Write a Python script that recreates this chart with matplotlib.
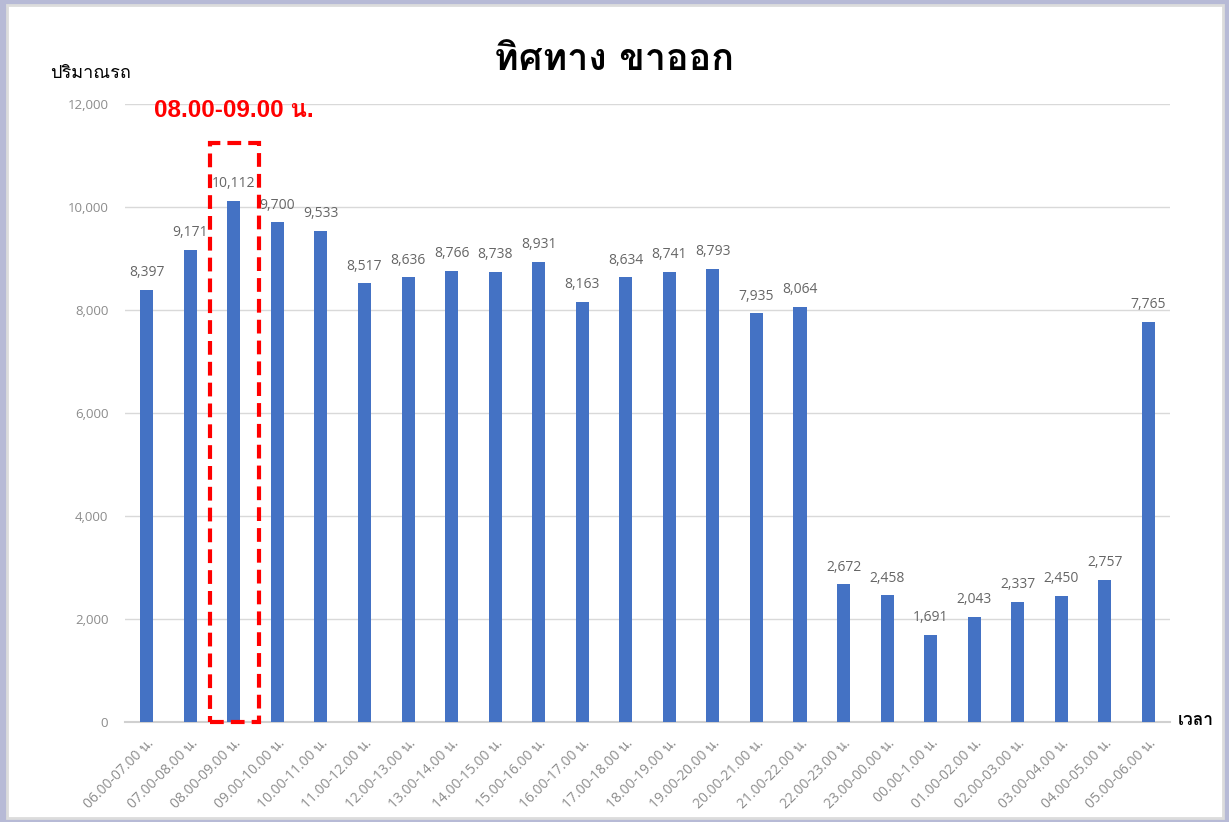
import matplotlib
matplotlib.use("Agg")
import matplotlib.pyplot as plt
from matplotlib import font_manager
from matplotlib.ft2font import FT2Font
from matplotlib.patches import Rectangle
import numpy as np


periods = ["06.00-07.00 น.", "07.00-08.00 น.", "08.00-09.00 น.", "09.00-10.00 น.",
           "10.00-11.00 น.", "11.00-12.00 น.", "12.00-13.00 น.", "13.00-14.00 น.",
           "14.00-15.00 น.", "15.00-16.00 น.", "16.00-17.00 น.", "17.00-18.00 น.",
           "18.00-19.00 น.", "19.00-20.00 น.", "20.00-21.00 น.", "21.00-22.00 น.",
           "22.00-23.00 น.", "23.00-00.00 น.", "00.00-1.00 น.", "01.00-02.00 น.",
           "02.00-03.00 น.", "03.00-04.00 น.", "04.00-05.00 น.", "05.00-06.00 น."]
vehicles = [8397, 9171, 10112, 9700, 9533, 8517, 8636, 8766, 8738, 8931, 8163, 8634,
            8741, 8793, 7935, 8064, 2672, 2458, 1691, 2043, 2337, 2450, 2757, 7765]
yticks = [0, 2000, 4000, 6000, 8000, 10000, 12000]
peak_label = "08.00-09.00 น."
peak_idx = periods.index(peak_label)


def thai_family():
    # first installed font that has Thai glyphs
    for f in font_manager.fontManager.ttflist:
        try:
            if 0x0E17 in FT2Font(f.fname).get_charmap():
                return f.name
        except Exception:
            pass
    return "DejaVu Sans"


thai = thai_family()
plt.rcParams["font.family"] = ["Liberation Sans", thai, "DejaVu Sans"]

fig = plt.figure(figsize=(12.29, 8.22), dpi=100, facecolor="#b7bad6")
fig.patches.append(Rectangle((7 / 1229, 4 / 822), 1216 / 1229, 813 / 822,
                             transform=fig.transFigure, facecolor="white",
                             edgecolor="#dcdcdc", lw=2, zorder=-5))

ax = fig.add_axes([0.1017, 0.1217, 0.8504, 0.7518])
ax.set_facecolor("none")
ax.set_zorder(2)

x = np.arange(len(vehicles))
ax.bar(x, vehicles, width=0.3, color="#4472c4", zorder=3)
for xi, v in zip(x, vehicles):
    ax.annotate(f"{v:,}", (xi, v), xytext=(0, 7), textcoords="offset points",
                ha="center", va="bottom", fontsize=10, color="#666666",
                family=["Open Sans", "DejaVu Sans"])

ax.set_xlim(-0.5, len(vehicles) - 0.5)
ax.set_ylim(0, 12000)
ax.set_yticks(yticks)
ax.set_yticklabels([f"{t:,}" for t in yticks], color="#8c8c8c", fontsize=9.5,
                   family=["Open Sans", "DejaVu Sans"])
ax.set_xticks(x)
ax.set_xticklabels(periods, rotation=45, ha="right", rotation_mode="anchor",
                   color="#8c8c8c", fontsize=10, family=["Open Sans", thai, "DejaVu Sans"])
ax.tick_params(length=0, pad=10)
ax.tick_params(axis="y", pad=12)
ax.grid(axis="y", color="#d9d9d9", lw=1, zorder=0)
for s in ["top", "right", "left"]:
    ax.spines[s].set_visible(False)
ax.spines["bottom"].set_color("#d0d0d0")
ax.spines["bottom"].set_linewidth(1.5)

# dashed box around the peak hour
ax.add_patch(Rectangle((peak_idx - 0.55, 0), 1.12, 11250, fill=False,
                       edgecolor="#ff0000", lw=3, ls=(0, (3.3, 1.7)), zorder=4,
                       clip_on=False))
ax.text(peak_idx - 1.84, 11880, peak_label, color="#ff0000", fontsize=17.5,
        fontweight="bold", va="center", ha="left")

fig.text(0.5, 0.927, "ทิศทาง ขาออก", ha="center", va="center", fontsize=27,
         fontweight="bold", color="black", family=[thai, "DejaVu Sans"])
fig.text(0.041, 0.911, "ปริมาณรถ", ha="left", va="center", fontsize=13,
         color="black", family=[thai, "DejaVu Sans"])
fig.text(0.958, 0.124, "เวลา", ha="left", va="center", fontsize=12.5,
         fontweight="bold", color="black", family=[thai, "DejaVu Sans"])

fig.savefig("out.png", dpi=100, facecolor=fig.get_facecolor())
